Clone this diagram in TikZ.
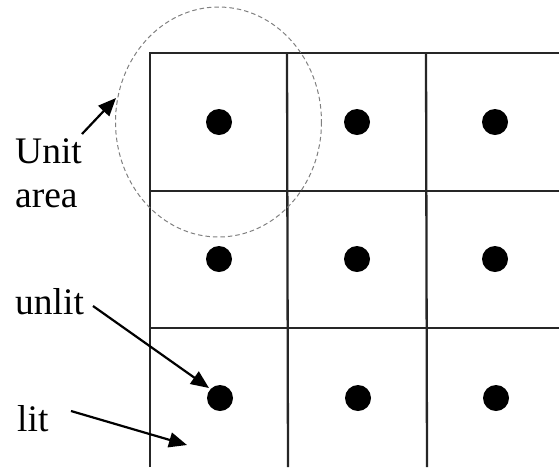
\documentclass[tikz,border=0pt]{standalone}
\usepackage{fontspec}
\setmainfont{Liberation Serif}
\usetikzlibrary{arrows.meta}
\begin{document}
\begin{tikzpicture}[x=1pt,y=-1pt,
  gridline/.style={line width=2.3pt,black!85},
  dotnode/.style={circle,fill=black,inner sep=0pt,minimum size=26pt},
  lbl/.style={anchor=base west,inner sep=0pt,font=\fontsize{37.5}{44}\selectfont},
  pointer/.style={line width=2.2pt,-{Triangle[length=18pt,width=15pt]}},
  unitarea/.style={dashed,gray,line width=1pt,dash pattern=on 4.5pt off 3pt}]
\useasboundingbox (0,0) rectangle (559,467);
% grid
\draw[gridline] (150,467) -- (150,53) -- (559,53);
\draw[gridline] (287,53) -- (288,467);
\draw[gridline] (426,53) -- (427,467);
\draw[gridline] (150,191) -- (559,191);
\draw[gridline] (150,328) -- (559,328);
% dots
\foreach \c/\x in {1/219,2/357,3/495}{
  \node[dotnode] (d1\c) at (\x,122) {};
  \node[dotnode] (d2\c) at (\x,259) {};
  \node[dotnode] (d3\c) at (\x+1,398) {};
}
% unit area ellipse
\draw[unitarea] (218.5,122) ellipse [x radius=103, y radius=115];
% labels
\node[lbl] (unit) at (15,163) {Unit};
\node[lbl] (area) at (15,207) {area};
\node[lbl] (unlit) at (15,314) {unlit};
\node[lbl] (lit) at (17,431) {lit};
% arrows
\coordinate (ua) at (82,134);
\coordinate (ub) at (116,98);
\coordinate (na) at (93,306);
\coordinate (nb) at (209,388);
\coordinate (la) at (71,411);
\coordinate (lb) at (187,445);
\draw[pointer] (ua) -- (ub);
\draw[pointer] (na) -- (nb);
\draw[pointer] (la) -- (lb);
\end{tikzpicture}
\end{document}
